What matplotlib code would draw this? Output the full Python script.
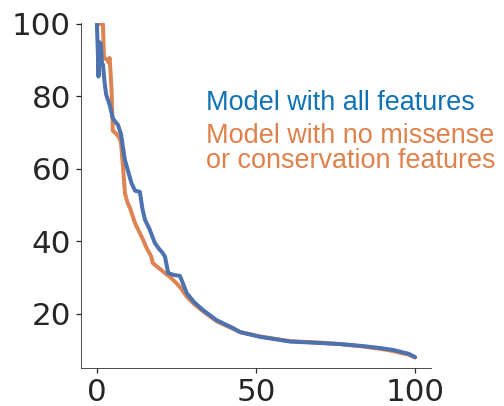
import matplotlib
matplotlib.use('Agg')
import matplotlib.pyplot as plt
import seaborn as sns

# Percent curves (x = percentile, y = value)
x_all = [0, 0.3, 0.5, 0.8, 1.2, 1.6, 1.9, 2.4, 2.9, 4.0, 5.0, 5.8, 6.6, 7.6, 8.2,
         8.8, 9.6, 10.9, 12.0, 13.5, 14.3, 15.1, 16.5, 18.2, 19.5, 20.5, 21.4,
         22.4, 24.0, 26.1, 27.0, 28.2, 30.5, 33.3, 37.6, 42.8, 45.0, 51.3, 60.7,
         70.0, 76.4, 83.0, 89.0, 93.0, 95.3, 98.0, 100.0]
y_all = [100, 92.0, 85.5, 95.0, 94.3, 89.0, 88.8, 84.0, 80.5, 77.7, 74.0, 73.0,
         72.2, 69.5, 65.8, 62.5, 60.0, 56.0, 54.0, 53.7, 49.0, 46.0, 43.5, 39.6,
         38.0, 37.0, 35.8, 31.3, 30.8, 30.5, 28.5, 25.8, 23.3, 21.1, 18.3, 16.1,
         15.0, 13.7, 12.4, 12.0, 11.7, 11.2, 10.6, 10.1, 9.6, 9.0, 8.1]

x_nomis = [0.8, 1.9, 2.2, 2.7, 3.2, 3.6, 4.0, 4.6, 5.0, 6.0, 7.1, 7.6, 8.2, 8.8,
           9.5, 10.4, 12.0, 13.5, 14.5, 15.6, 17.0, 17.6, 19.0, 20.8, 23.0, 25.0,
           26.5, 28.2, 30.5, 33.3, 37.6, 42.8, 45.0, 51.3, 60.7, 70.0, 76.4, 83.0,
           89.0, 93.0, 95.3, 98.0, 100.0]
y_nomis = [100, 100, 90.6, 90.4, 90.2, 89.5, 90.6, 82.0, 70.5, 69.8, 68.5, 67.0,
           60.6, 53.4, 51.0, 49.2, 45.0, 42.3, 40.5, 38.2, 36.0, 34.0, 33.0, 31.7,
           30.2, 28.5, 27.0, 24.8, 22.8, 20.8, 18.0, 15.9, 15.0, 13.8, 12.5,
           12.1, 11.7, 11.1, 10.4, 9.8, 9.3, 8.8, 8.0]

sns.set_style('ticks')
plt.rcParams['font.family'] = ['DejaVu Sans']

fig = plt.figure(figsize=(7, 406 / 72), dpi=72)
ax = fig.add_axes([81 / 504, 38 / 406, 350 / 504, 345.5 / 406])

ax.plot(x_nomis, y_nomis, color='#dd8452', lw=4, solid_joinstyle='round')
ax.plot(x_all, y_all, color='#4c72b0', lw=4, solid_joinstyle='round')

ax.set_xlim(-5, 105)
ax.set_ylim(5.1, 100.4)
ax.set_xticks([0, 50, 100])
ax.set_yticks([20, 40, 60, 80, 100])
ax.tick_params(labelsize=31, length=5, width=1.25, pad=5, colors='.15')
sns.despine(ax=ax)

fig.text(206 / 504, 1 - 110 / 406, 'Model with all features', color='#0f72b5',
         fontsize=27, family='Liberation Sans', va='baseline')
fig.text(206 / 504, 1 - 143 / 406, 'Model with no missense', color='#e0804a',
         fontsize=27, family='Liberation Sans', va='baseline')
fig.text(206 / 504, 1 - 168 / 406, 'or conservation features', color='#e0804a',
         fontsize=27, family='Liberation Sans', va='baseline')

fig.savefig('out.png', dpi=72)
